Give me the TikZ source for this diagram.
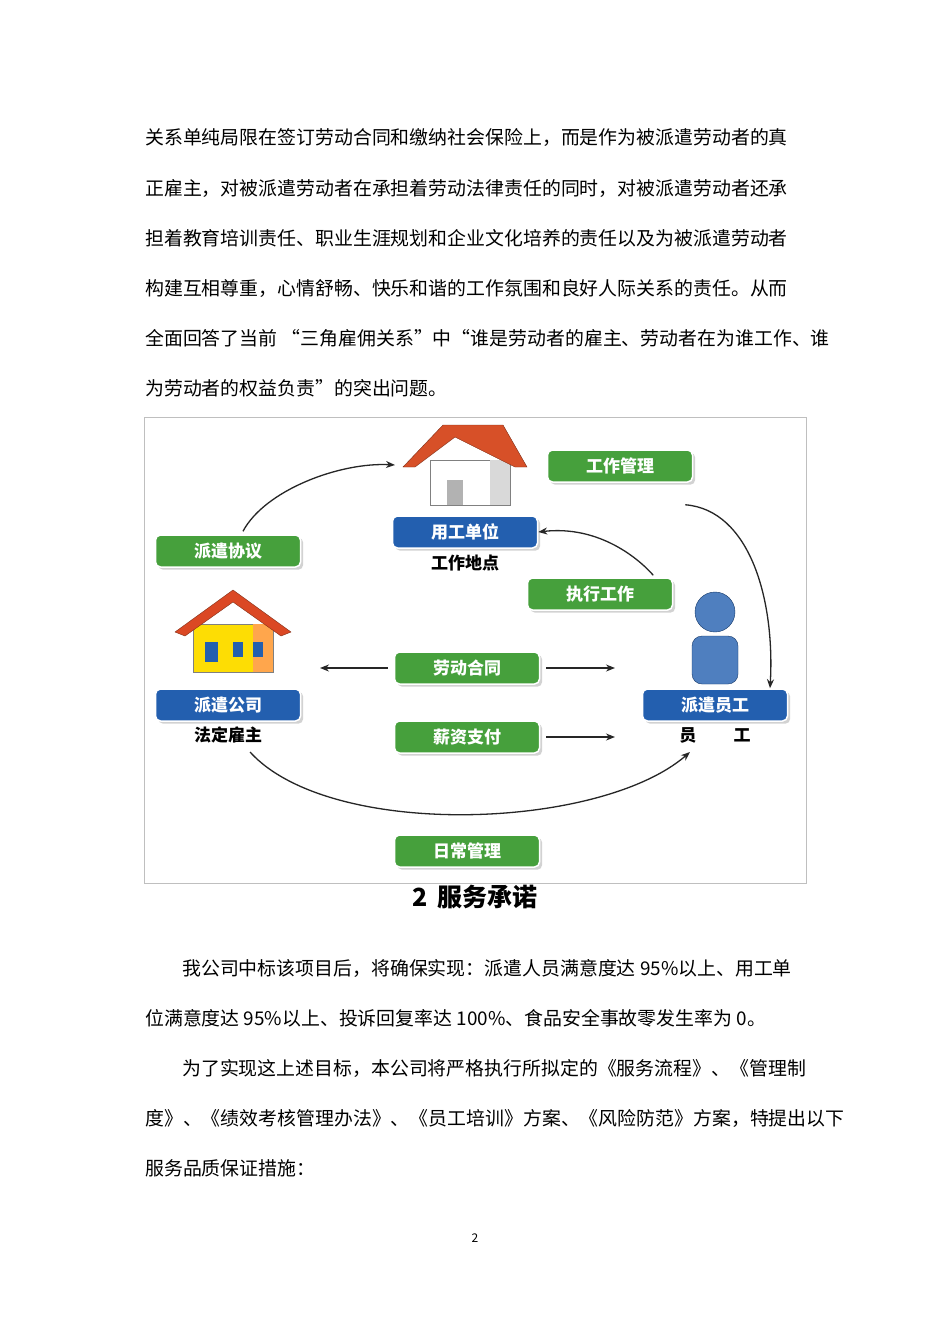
\documentclass[tikz,border=0pt]{standalone}
\usepackage{fontspec}
\setmainfont{Noto Sans CJK SC}
\usetikzlibrary{arrows.meta,shadows}
\definecolor{gbox}{RGB}{70,160,60}
\definecolor{bbox}{RGB}{35,95,175}
\definecolor{roof}{RGB}{215,80,40}
\tikzset{
 txt/.style={anchor=west,font=\fontsize{18.9}{18.9}\selectfont,inner sep=0pt},
 gb/.style={rounded corners=5pt,fill=gbox,draw=white,line width=1.5pt,text=white,font=\fontsize{17}{17}\selectfont\bfseries,minimum width=145pt,minimum height=32pt,drop shadow={opacity=0.35}},
 bb/.style={gb,fill=bbox},
 lbl/.style={font=\fontsize{17}{17}\selectfont\bfseries},
 arr/.style={-{Stealth[length=9pt,width=7pt]},line width=1.3pt,black!85}
}
\begin{document}
\begin{tikzpicture}[x=1pt,y=-1pt]
\useasboundingbox[fill=white] (0,0) rectangle (950,1344);
\node[txt] (l1) at (145,138) {关系单纯局限在签订劳动合同和缴纳社会保险上，而是作为被派遣劳动者的真};
\node[txt] (l2) at (145,188) {正雇主，对被派遣劳动者在承担着劳动法律责任的同时，对被派遣劳动者还承};
\node[txt] (l3) at (145,238) {担着教育培训责任、职业生涯规划和企业文化培养的责任以及为被派遣劳动者};
\node[txt] (l4) at (145,288) {构建互相尊重，心情舒畅、快乐和谐的工作氛围和良好人际关系的责任。从而};
\node[txt] (l5) at (145,338) {全面回答了当前 “三角雇佣关系”中“谁是劳动者的雇主、劳动者在为谁工作、谁};
\node[txt] (l6) at (145,388) {为劳动者的权益负责”的突出问题。};
\draw[black!25] (144,417) rectangle (806,883);
% houses
\begin{scope}[shift={(465,505)}]
 \fill[white,draw=black!50] (-35,0) rectangle (45,-45);
 \fill[black!15] (25,0) rectangle (45,-45);
 \fill[black!30] (-18,0) rectangle (-2,-25);
 \fill[roof,draw=roof!60!black] (-62,-38) -- (-22,-80) -- (38,-80) -- (62,-38) -- (50,-38) -- (-10,-68) -- (-50,-38) -- cycle;
\end{scope}
\begin{scope}[shift={(233,672)}]
 \fill[yellow!80!orange,draw=black!50] (-40,0) rectangle (40,-48);
 \fill[orange!70] (20,0) rectangle (40,-48);
 \fill[bbox] (-28,-10) rectangle (-15,-30);
 \fill[bbox] (0,-15) rectangle (10,-30);
 \fill[bbox] (20,-15) rectangle (30,-30);
 \fill[roof!90!red,draw=roof!60!black] (-58,-40) -- (0,-82) -- (58,-40) -- (48,-36) -- (0,-70) -- (-48,-36) -- cycle;
\end{scope}
% person
\fill[bbox!80,draw=bbox!60!black] (715,612) circle (20);
\fill[bbox!80,draw=bbox!60!black,rounded corners=10pt] (692,636) rectangle (738,684);
% boxes
\node[gb] (gzgl) at (620,466) {工作管理};
\node[bb] (ygdw) at (465,532) {用工单位};
\node[lbl] (gzdd) at (465,563) {工作地点};
\node[gb] (pqxy) at (228,551) {派遣协议};
\node[gb] (zxgz) at (600,594) {执行工作};
\node[gb] (ldht) at (467,668) {劳动合同};
\node[bb] (pqgs) at (228,705) {派遣公司};
\node[lbl] (fdgz) at (228,735) {法定雇主};
\node[bb] (pqyg) at (715,705) {派遣员工};
\node[lbl] (yg) at (715,735) {员\hspace{2.2em}工};
\node[gb] (xzzf) at (467,737) {薪资支付};
\node[gb] (rcgl) at (467,851) {日常管理};
\coordinate (hl) at (395,465);
\coordinate (ll) at (320,668);
\coordinate (lr) at (615,668);
\coordinate (xr) at (615,737);
\draw[arr] (pqxy.north) ++(15,-3) .. controls (265,490) and (340,462) .. (hl);
\draw[arr] (gzgl.south east) ++(-8,22) .. controls (750,510) and (775,600) .. ([xshift=55pt]pqyg.north);
\draw[arr] (zxgz.north east) ++(-20,-2) .. controls (640,560) and (600,525) .. (ygdw.east);
\draw[arr] (ldht.west) ++(-6,0) -- (ll);
\draw[arr] (ldht.east) ++(6,0) -- (lr);
\draw[arr] (xzzf.east) ++(6,0) -- (xr);
\draw[arr] (250,752) .. controls (330,840) and (600,830) .. (690,752);
\node[font=\fontsize{25}{25}\selectfont\bfseries] (title) at (475,897) {2\, 服务承诺};
\node[txt] (p1) at (182,968) {我公司中标该项目后，将确保实现：派遣人员满意度达 95\%以上、用工单};
\node[txt] (p2) at (145,1018) {位满意度达 95\%以上、投诉回复率达 100\%、食品安全事故零发生率为 0。};
\node[txt] (p3) at (182,1068) {为了实现这上述目标，本公司将严格执行所拟定的《服务流程》、《管理制};
\node[txt] (p4) at (145,1118) {度》、《绩效考核管理办法》、《员工培训》方案、《风险防范》方案，特提出以下};
\node[txt] (p5) at (145,1168) {服务品质保证措施：};
\node[font=\fontsize{12}{12}\selectfont] (pg) at (475,1238) {2};
\end{tikzpicture}
\end{document}
